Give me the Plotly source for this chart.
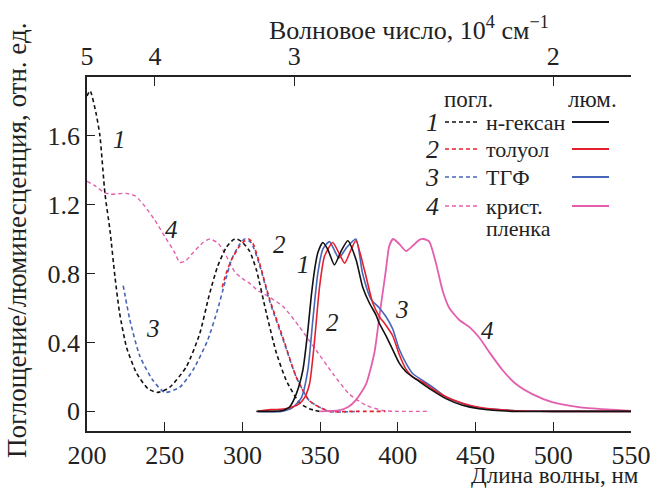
import plotly.graph_objects as go

# ---------------- data ----------------
abs_hex_x = [200, 202, 205.8, 208.3, 211.6, 214.8, 218, 221, 225.5, 232, 239.4, 245.8, 253.3, 264, 272.5, 278.5, 284, 289.5, 294, 296.5, 299.5, 304.6, 309, 315.4, 321.8, 328.2, 336.7, 343, 349.6]
abs_hex_y = [1.83, 1.86, 1.73, 1.60, 1.26, 1.05, 0.78, 0.57, 0.37, 0.22, 0.13, 0.11, 0.14, 0.26, 0.45, 0.67, 0.84, 0.95, 0.995, 1.0, 0.985, 0.93, 0.82, 0.57, 0.34, 0.18, 0.05, 0.015, 0.0]

abs_thf_x = [223.3, 227.6, 234, 242.4, 250, 259.7, 268.2, 277.5, 284, 288.5, 293, 297.5, 301.5, 305.5, 311, 317.5, 326, 334.6, 343.2, 356, 375]
abs_thf_y = [0.73, 0.53, 0.32, 0.18, 0.11, 0.14, 0.24, 0.41, 0.59, 0.74, 0.88, 0.96, 1.0, 0.98, 0.85, 0.64, 0.42, 0.2, 0.06, 0.0, 0.0]

abs_tol_x = [287, 289.5, 293, 297.5, 301.5, 304, 306.5, 311, 317.5, 326, 334.6, 343.2, 356, 370, 392]
abs_tol_y = [0.72, 0.80, 0.88, 0.95, 0.99, 1.0, 0.98, 0.86, 0.65, 0.43, 0.2, 0.06, 0.0, 0.0, 0.0]

abs_film_x = [200, 205, 211, 215, 225, 231, 237.2, 243.6, 250, 256.5, 259.5, 263, 268.2, 274.7, 279, 284.3, 289.7, 295, 300, 305, 310, 316, 326, 336.7, 347.4, 358.1, 368.8, 379.6, 390.2, 400, 420]
abs_film_y = [1.335, 1.31, 1.27, 1.26, 1.265, 1.25, 1.19, 1.11, 1.015, 0.92, 0.865, 0.87, 0.92, 0.98, 1.0, 0.976, 0.90, 0.81, 0.77, 0.74, 0.70, 0.67, 0.61, 0.49, 0.355, 0.22, 0.10, 0.035, 0.005, 0.0, 0.0]

lum_hex_x = [309, 320, 326, 330.3, 334.6, 338.9, 342.1, 344.3, 346.4, 348.5, 351.7, 354.9, 359.2, 363.5, 367.8, 373.1, 377.4, 381.6, 385.9, 388.1, 392.3, 396.6, 400.9, 405.2, 409.5, 415.9, 422.4, 430.9, 441.6, 452.2, 473.6, 500, 550]
lum_hex_y = [0, 0, 0.005, 0.025, 0.10, 0.24, 0.47, 0.67, 0.82, 0.92, 0.98, 0.94, 0.85, 0.93, 0.99, 0.88, 0.72, 0.63, 0.56, 0.51, 0.44, 0.36, 0.28, 0.23, 0.20, 0.16, 0.12, 0.074, 0.035, 0.015, 0.0, 0.0, 0.0]

lum_tol_x = [310, 318, 322, 330, 336, 340, 343.2, 346.4, 349.6, 352.8, 358.1, 362, 365.8, 369.5, 373, 378.5, 383.8, 388.1, 392.3, 396.6, 400.9, 405.2, 409.5, 415.9, 422.4, 430.9, 441.6, 452.2, 473.6, 500, 550]
lum_tol_y = [0, 0.01, 0.01, 0.02, 0.04, 0.08, 0.16, 0.41, 0.72, 0.90, 0.98, 0.92, 0.86, 0.93, 0.99, 0.82, 0.63, 0.55, 0.50, 0.44, 0.33, 0.245, 0.20, 0.17, 0.13, 0.085, 0.047, 0.024, 0.005, 0.0, 0.0]

lum_thf_x = [310, 325, 332, 338, 342.1, 345.3, 348.5, 351.7, 356, 362, 367, 373, 377.3, 382.8, 388.1, 392.3, 396.6, 400.9, 405.2, 409.5, 415.9, 422.4, 430.9, 441.6, 452.2, 473.6, 500, 550]
lum_thf_y = [0, 0.0, 0.02, 0.08, 0.24, 0.53, 0.80, 0.94, 0.985, 0.89, 0.95, 1.0, 0.80, 0.65, 0.60, 0.55, 0.48, 0.36, 0.28, 0.22, 0.18, 0.14, 0.083, 0.045, 0.02, 0.005, 0.0, 0.0]

lum_film_x = [350, 362, 368, 373, 379.6, 384.9, 388.1, 392.3, 394.5, 397, 401, 405.2, 409.5, 413.8, 416.5, 420.2, 424.5, 428.8, 433.1, 439.5, 445.9, 452.2, 458.7, 467.3, 475.8, 486.5, 499.3, 516.4, 537.8, 550]
lum_film_y = [0, 0.005, 0.025, 0.065, 0.16, 0.34, 0.55, 0.82, 0.96, 1.0, 0.97, 0.93, 0.96, 0.995, 1.0, 0.985, 0.86, 0.70, 0.60, 0.53, 0.49, 0.43, 0.345, 0.24, 0.16, 0.10, 0.054, 0.025, 0.01, 0.003]

x_ticks = [200, 250, 300, 350, 400, 450, 500, 550]
y_ticks = [0, 0.4, 0.8, 1.2, 1.6]
y_tick_text = ["0", "0.4", "0.8", "1.2", "1.6"]
top_tick_pos = [200, 243.7, 333.3, 500]
top_tick_text = ["5", "4", "3", "2"]

legend_names = ["н-гексан", "толуол", "ТГФ", "крист."]
legend_nums = ["1", "2", "3", "4"]

# ---------------- styling ----------------
BLACK = "#111111"
RED = "#e5202e"
BLUE = "#4866b8"
MAG = "#e35fae"
SERIF = "Liberation Serif, Times New Roman, Times, DejaVu Serif, serif"
TXT = "#222222"

W, H = 652, 490
L, R, T, B = 87, 21, 77, 59

def px(xp):
    return (xp - L) / (W - L - R)

def py(yp):
    return (H - B - yp) / (H - T - B)

fig = go.Figure()

def add(x, y, color, dash, width=1.6):
    fig.add_trace(go.Scatter(x=x, y=y, mode="lines",
                             line=dict(color=color, width=width, dash=dash, shape="spline", smoothing=0.6),
                             showlegend=False, hoverinfo="skip"))

DASH = "4px,3px"
add(abs_film_x, abs_film_y, MAG, DASH, 1.4)
add(abs_thf_x, abs_thf_y, BLUE, DASH)
add(abs_tol_x, abs_tol_y, RED, DASH)
add(abs_hex_x, abs_hex_y, BLACK, DASH)
add(lum_film_x, lum_film_y, MAG, "solid", 1.8)
add(lum_thf_x, lum_thf_y, BLUE, "solid")
add(lum_tol_x, lum_tol_y, RED, "solid")
add(lum_hex_x, lum_hex_y, BLACK, "solid")

# dummy trace for top axis
fig.add_trace(go.Scatter(x=[200, 550], y=[0, 0], xaxis="x2", mode="lines",
                         line=dict(width=0), showlegend=False, hoverinfo="skip"))

TICKFONT = dict(size=26, family=SERIF, color=TXT)
fig.update_layout(
    width=W, height=H,
    margin=dict(l=L, r=R, t=T, b=B),
    paper_bgcolor="white", plot_bgcolor="white",
    font=dict(family=SERIF, size=20, color=TXT),
    xaxis=dict(range=[200, 550], tickvals=x_ticks, ticks="inside", ticklen=9,
               tickwidth=1.3, tickcolor=TXT, showline=True, linecolor=TXT, linewidth=1.5,
               showgrid=False, zeroline=False, tickfont=TICKFONT, automargin=False),
    xaxis2=dict(range=[200, 550], overlaying="x", side="top", tickvals=top_tick_pos,
                ticktext=top_tick_text, ticks="inside", ticklen=9, tickwidth=1.3, tickcolor=TXT,
                showline=True, linecolor=TXT, linewidth=1.5, showgrid=False, zeroline=False,
                tickfont=TICKFONT, automargin=False),
    yaxis=dict(range=[-0.114, 1.94], tickvals=y_ticks, ticktext=y_tick_text, ticks="inside",
               ticklen=8, tickwidth=1.3, tickcolor=TXT, showline=True, linecolor=TXT,
               linewidth=1.5, showgrid=False, zeroline=False, tickfont=TICKFONT, automargin=False),
)

ann = []
def A(text, xp, yp, size, xanchor="center", angle=0):
    ann.append(dict(text=text, x=px(xp), y=py(yp), xref="paper", yref="paper",
                    xanchor=xanchor, yanchor="middle", textangle=angle, showarrow=False,
                    font=dict(size=size, family=SERIF, color=TXT)))

# axis titles
A("Волновое число, 10<sup>4</sup> см<sup>−1</sup>", 409, 28, 26)
A("Длина волны, нм", 641, 475, 23, xanchor="right")
A("Поглощение/люминесценция, отн. ед.", 17, 241, 27, angle=-90)

# curve labels (italic)
def dx(xp):
    return 200 + (xp - 87) * 350 / 545

def dy(yp):
    return (411 - yp) / 171.7

curve_labels = [("1", 120, 140), ("4", 172, 230), ("3", 153, 328), ("2", 280, 245),
                ("1", 304, 265), ("2", 333, 322), ("3", 403, 310), ("4", 488, 330)]
for t, xp, yp in curve_labels:
    ann.append(dict(text="<i>%s</i>" % t, x=dx(xp), y=dy(yp), xref="x", yref="y",
                    xanchor="center", yanchor="middle", showarrow=False,
                    font=dict(size=25, family=SERIF, color=TXT)))

# legend block
A("погл.", 468, 99, 23)
A("люм.", 592, 99, 23)
rows_y = [122, 149, 177, 206]
colors = [BLACK, RED, BLUE, MAG]
shapes = []
for num, name, ry, col in zip(legend_nums, legend_names, rows_y, colors):
    A("<i>%s</i>" % num, 432, ry, 26)
    A(name, 484, ry, 22, xanchor="left")
    shapes.append(dict(type="line", xref="paper", yref="paper", x0=px(445), x1=px(477),
                       y0=py(ry), y1=py(ry), line=dict(color=col, width=1.6, dash="4px,3px")))
    shapes.append(dict(type="line", xref="paper", yref="paper", x0=px(572), x1=px(609),
                       y0=py(ry), y1=py(ry), line=dict(color=col, width=1.8)))
A("пленка", 484, 228, 22, xanchor="left")

fig.update_layout(annotations=ann, shapes=shapes)
fig.write_html("out.html", config={"displayModeBar": False},
               post_script="document.body.style.margin='0px';")
